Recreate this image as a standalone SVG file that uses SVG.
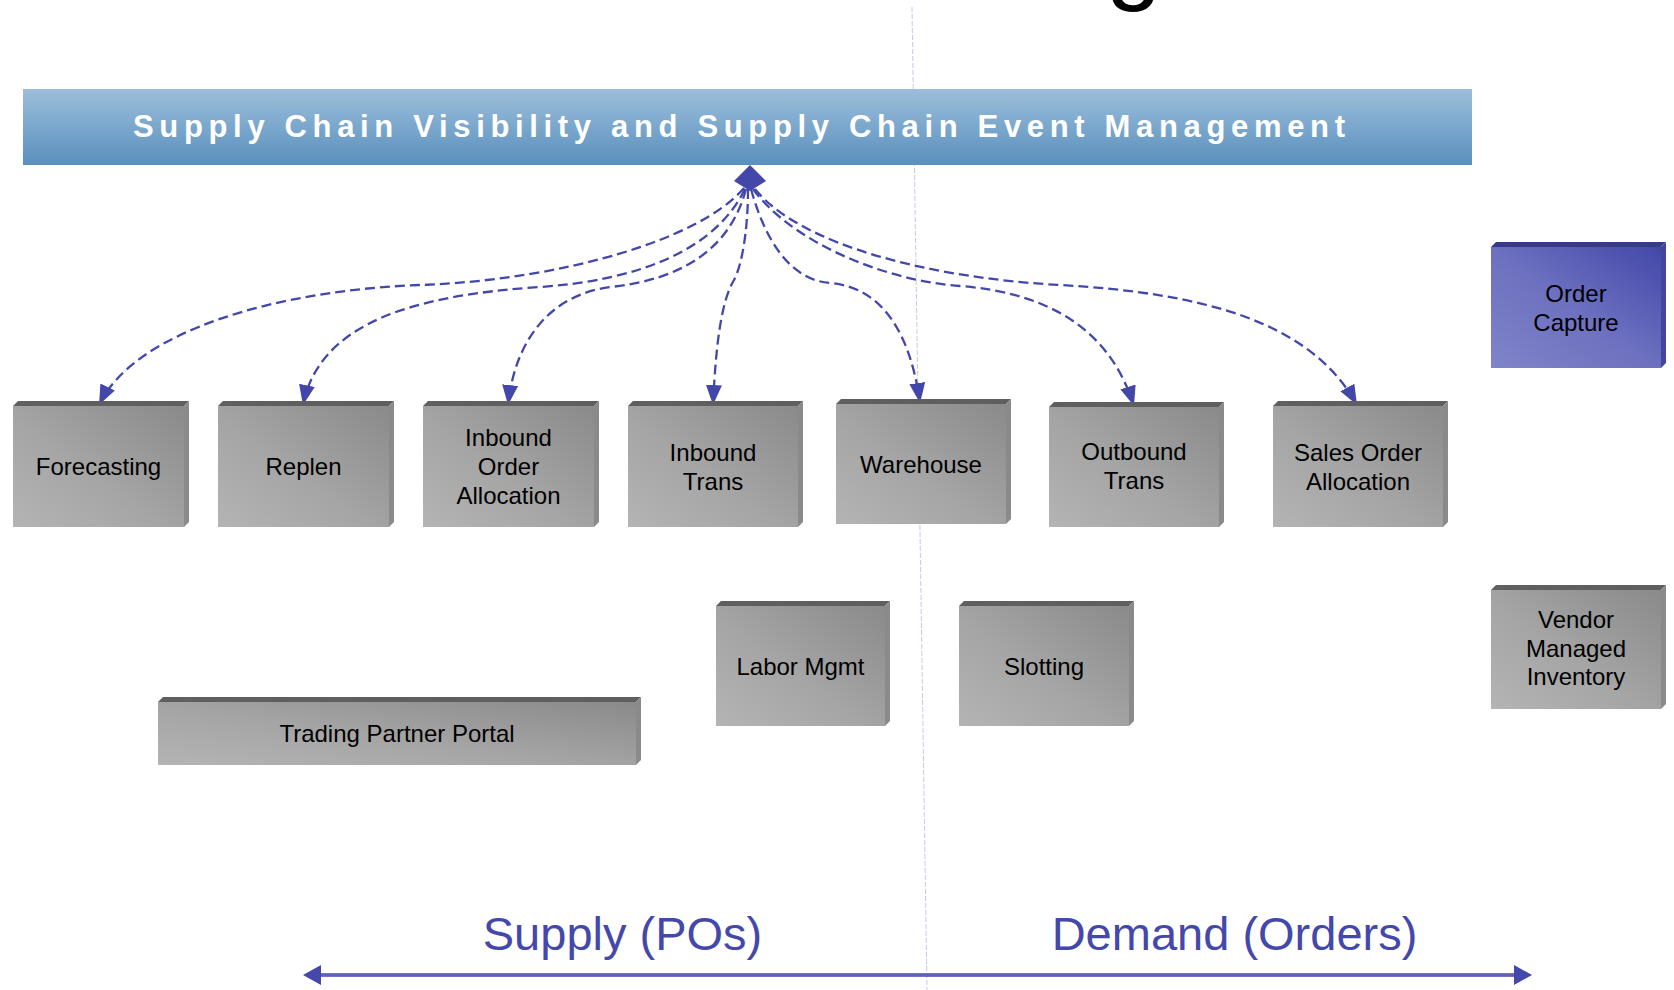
<svg xmlns="http://www.w3.org/2000/svg" width="1674" height="990" viewBox="0 0 1674 990">
<style>
.top{fill:#5f5f5f}
.side{fill:#8a8a8a}
.front{fill:url(#gGray)}
.btop{fill:#37398e}
.bside{fill:#4145a0}
.bfront{fill:url(#gBlue)}
.lbl{font-family:"Liberation Sans",Arial,sans-serif;font-size:24px;fill:#000;text-anchor:middle}
.conn{fill:none;stroke:#4347a9;stroke-width:2.3;stroke-dasharray:10 5;marker-end:url(#ah)}
.big{font-family:"Liberation Sans",Arial,sans-serif;font-size:47px;fill:#4448aa;text-anchor:middle}
</style>
<defs>
<linearGradient id="gGray" x1="0" y1="1" x2="1" y2="0">
<stop offset="0" stop-color="#b4b4b4"/>
<stop offset="0.45" stop-color="#a5a5a5"/>
<stop offset="1" stop-color="#8a8a8a"/>
</linearGradient>
<linearGradient id="gBlue" x1="0" y1="1" x2="1" y2="0">
<stop offset="0" stop-color="#8084c9"/>
<stop offset="0.5" stop-color="#6c70bf"/>
<stop offset="1" stop-color="#4347a9"/>
</linearGradient>
<linearGradient id="gBanner" x1="0" y1="0" x2="0" y2="1">
<stop offset="0" stop-color="#9dbedb"/>
<stop offset="1" stop-color="#5990bd"/>
</linearGradient>
<marker id="ah" markerUnits="userSpaceOnUse" markerWidth="20" markerHeight="16" refX="20" refY="8" orient="auto" viewBox="0 0 20 16">
<path d="M0,0 L20,8 L0,16 z" fill="#4347a9"/>
</marker>
</defs>
<rect width="1674" height="990" fill="#fff"/>
<text x="1106" y="-9" font-family="Liberation Sans, Arial, sans-serif" font-size="100" fill="#000">g</text>
<line x1="912" y1="7" x2="927" y2="990" stroke="#c8c8e8" stroke-width="1" stroke-dasharray="5 2"/>

<g id="banner">
<rect x="23" y="89" width="1449" height="76" fill="url(#gBanner)"/>
<text x="133" y="137" textLength="1212" lengthAdjust="spacing" font-family="Liberation Sans, Arial, sans-serif" font-size="31" font-weight="bold" fill="#fff">Supply Chain Visibility and Supply Chain Event Management</text>
</g>

<g id="connectors">
<path class="conn" d="M744,188 C700,240 560,280 420,285 C280,290 135,330 99,405"/>
<path class="conn" d="M745,189 C715,250 640,280 540,287 C420,295 320,320 303,405"/>
<path class="conn" d="M746,189 C730,250 680,280 610,287 C550,295 515,340 508,405"/>
<path class="conn" d="M748,189 C748,230 742,265 734,280 C722,300 716,340 713,405"/>
<path class="conn" d="M751,189 C765,240 790,280 830,283 C880,287 910,330 920,403"/>
<path class="conn" d="M753,189 C790,240 880,280 960,286 C1050,293 1110,330 1134,406"/>
<path class="conn" d="M755,189 C800,245 930,278 1060,285 C1200,293 1310,320 1357,405"/>
<polygon points="750,165 766,181 750,191 734,181" fill="#4347a9"/>
</g>

<g id="forecasting">
<polygon class="top" points="13,406 18,401 189,401 184,406"/>
<polygon class="side" points="184,406 189,401 189,522 184,527"/>
<rect class="front" x="13" y="406" width="171" height="121"/>
<text class="lbl" x="98.5" y="475">Forecasting</text>
</g>
<g id="replen">
<polygon class="top" points="218,406 223,401 394,401 389,406"/>
<polygon class="side" points="389,406 394,401 394,522 389,527"/>
<rect class="front" x="218" y="406" width="171" height="121"/>
<text class="lbl" x="303.5" y="475">Replen</text>
</g>
<g id="inbound-order-allocation">
<polygon class="top" points="423,406 428,401 599,401 594,406"/>
<polygon class="side" points="594,406 599,401 599,522 594,527"/>
<rect class="front" x="423" y="406" width="171" height="121"/>
<text class="lbl" x="508.5" y="446">Inbound</text>
<text class="lbl" x="508.5" y="475">Order</text>
<text class="lbl" x="508.5" y="504">Allocation</text>
</g>
<g id="inbound-trans">
<polygon class="top" points="628,406 633,401 803,401 798,406"/>
<polygon class="side" points="798,406 803,401 803,522 798,527"/>
<rect class="front" x="628" y="406" width="170" height="121"/>
<text class="lbl" x="713" y="460.5">Inbound</text>
<text class="lbl" x="713" y="489.5">Trans</text>
</g>
<g id="warehouse">
<polygon class="top" points="836,404 841,399 1011,399 1006,404"/>
<polygon class="side" points="1006,404 1011,399 1011,519 1006,524"/>
<rect class="front" x="836" y="404" width="170" height="120"/>
<text class="lbl" x="921" y="472.5">Warehouse</text>
</g>
<g id="outbound-trans">
<polygon class="top" points="1049,407 1054,402 1224,402 1219,407"/>
<polygon class="side" points="1219,407 1224,402 1224,522 1219,527"/>
<rect class="front" x="1049" y="407" width="170" height="120"/>
<text class="lbl" x="1134" y="460">Outbound</text>
<text class="lbl" x="1134" y="489">Trans</text>
</g>
<g id="sales-order-allocation">
<polygon class="top" points="1273,406 1278,401 1448,401 1443,406"/>
<polygon class="side" points="1443,406 1448,401 1448,522 1443,527"/>
<rect class="front" x="1273" y="406" width="170" height="121"/>
<text class="lbl" x="1358" y="460.5">Sales Order</text>
<text class="lbl" x="1358" y="489.5">Allocation</text>
</g>
<g id="order-capture">
<polygon class="btop" points="1491,247 1496,242 1666,242 1661,247"/>
<polygon class="bside" points="1661,247 1666,242 1666,363 1661,368"/>
<rect class="bfront" x="1491" y="247" width="170" height="121"/>
<text class="lbl" x="1576" y="301.5">Order</text>
<text class="lbl" x="1576" y="330.5">Capture</text>
</g>
<g id="vendor-managed-inventory">
<polygon class="top" points="1491,590 1496,585 1666,585 1661,590"/>
<polygon class="side" points="1661,590 1666,585 1666,704 1661,709"/>
<rect class="front" x="1491" y="590" width="170" height="119"/>
<text class="lbl" x="1576" y="628">Vendor</text>
<text class="lbl" x="1576" y="656.5">Managed</text>
<text class="lbl" x="1576" y="685">Inventory</text>
</g>
<g id="labor-mgmt">
<polygon class="top" points="716,606 721,601 890,601 885,606"/>
<polygon class="side" points="885,606 890,601 890,721 885,726"/>
<rect class="front" x="716" y="606" width="169" height="120"/>
<text class="lbl" x="800.5" y="674.5">Labor Mgmt</text>
</g>
<g id="slotting">
<polygon class="top" points="959,606 964,601 1134,601 1129,606"/>
<polygon class="side" points="1129,606 1134,601 1134,721 1129,726"/>
<rect class="front" x="959" y="606" width="170" height="120"/>
<text class="lbl" x="1044" y="674.5">Slotting</text>
</g>
<g id="trading-partner-portal">
<polygon class="top" points="158,702 163,697 641,697 636,702"/>
<polygon class="side" points="636,702 641,697 641,760 636,765"/>
<rect class="front" x="158" y="702" width="478" height="63"/>
<text class="lbl" x="397" y="742">Trading Partner Portal</text>
</g>

<g id="axis">
<line x1="318" y1="975" x2="1517" y2="975" stroke="#4448aa" stroke-width="3.5"/>
<line x1="318" y1="975" x2="1517" y2="975" stroke="#8a8dd2" stroke-width="0.8"/>
<polygon points="303,975 321,965 321,985" fill="#4448aa"/>
<polygon points="1532,975 1514,965 1514,985" fill="#4448aa"/>
<text class="big" x="622.5" y="950">Supply (POs)</text>
<text class="big" x="1234.5" y="950">Demand (Orders)</text>
</g>
</svg>
